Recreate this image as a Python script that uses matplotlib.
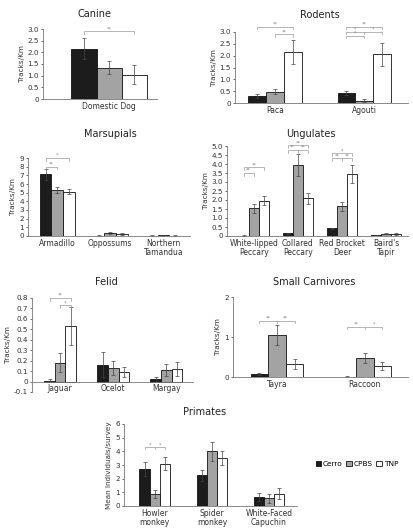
import matplotlib.pyplot as plt
import numpy as np

# colours of the three sites
site_names = ["Cerro", "CPBS", "TNP"]
site_colors = ["#1c1c1c", "#a3a3a3", "#ffffff"]

# data per panel: means and error (Cerro, CPBS, TNP)
canine_cats = ["Domestic Dog"]
canine_mean = [[2.15], [1.35], [1.05]]
canine_err = [[0.45], [0.27], [0.42]]

rodent_cats = ["Paca", "Agouti"]
rodent_mean = [[0.28, 0.42], [0.48, 0.10], [2.15, 2.05]]
rodent_err = [[0.08, 0.10], [0.10, 0.05], [0.50, 0.50]]

marsup_cats = ["Armadillo", "Oppossums", "Northern\nTamandua"]
marsup_mean = [[7.1, 0.05, 0.05], [5.3, 0.35, 0.08], [5.1, 0.2, 0.05]]
marsup_err = [[0.6, 0.02, 0.02], [0.35, 0.15, 0.03], [0.3, 0.1, 0.02]]

ungul_cats = ["White-lipped\nPeccary", "Collared\nPeccary", "Red Brocket\nDeer", "Baird's\nTapir"]
ungul_mean = [[0.02, 0.15, 0.42, 0.05], [1.55, 3.95, 1.65, 0.13], [1.97, 2.1, 3.45, 0.11]]
ungul_err = [[0.01, 0.03, 0.05, 0.02], [0.25, 0.6, 0.25, 0.03], [0.27, 0.3, 0.5, 0.03]]

felid_cats = ["Jaguar", "Ocelot", "Margay"]
felid_mean = [[0.01, 0.16, 0.02], [0.18, 0.13, 0.11], [0.53, 0.09, 0.12]]
felid_err = [[0.01, 0.12, 0.02], [0.09, 0.07, 0.06], [0.18, 0.05, 0.07]]

smallc_cats = ["Tayra", "Raccoon"]
smallc_mean = [[0.07, 0.01], [1.05, 0.48], [0.32, 0.28]]
smallc_err = [[0.03, 0.01], [0.25, 0.13], [0.12, 0.10]]

primate_cats = ["Howler\nmonkey", "Spider\nmonkey", "White-Faced\nCapuchin"]
primate_mean = [[2.7, 2.25, 0.65], [0.85, 4.0, 0.55], [3.1, 3.5, 0.9]]
primate_err = [[0.5, 0.4, 0.3], [0.3, 0.7, 0.3], [0.45, 0.5, 0.4]]

W, H = 413, 528
fig = plt.figure(figsize=(W / 100, H / 100), dpi=100)
plt.rcParams['font.family'] = ['DejaVu Sans']


def make_ax(left, right, top, bottom):
    return fig.add_axes([left / W, 1 - bottom / H, (right - left) / W, (bottom - top) / H])


def panel(ax, title, tpos, cats, means, errs, ylim, yticks, ylabels, xlim, bw,
          ylab="Tracks/Km", zero_axis=False):
    if zero_axis:
        ax.spines["bottom"].set_position(("data", 0))
    x = np.arange(len(cats))
    for k in range(3):
        ax.bar(x + (k - 1) * bw, means[k], bw, yerr=errs[k], color=site_colors[k],
               edgecolor="#111111", linewidth=0.6, label=site_names[k],
               error_kw=dict(ecolor="#444444", elinewidth=0.5, capsize=1.5, capthick=0.5))
    ax.set_xlim(xlim)
    ax.set_ylim(ylim)
    ax.set_yticks(yticks)
    ax.set_yticklabels(ylabels)
    ax.set_xticks(x)
    ax.set_xticklabels(cats, fontsize=5.5, linespacing=1.0)
    ax.tick_params(axis="y", labelsize=5.2, length=1.5, width=0.5, pad=1.5, colors="#333333")
    ax.tick_params(axis="x", length=0, pad=2, colors="#333333")
    for s in ["top", "right"]:
        ax.spines[s].set_visible(False)
    for s in ["left", "bottom"]:
        ax.spines[s].set_color("#777777")
        ax.spines[s].set_linewidth(0.6)
    ax.set_ylabel(ylab, fontsize=5.2, labelpad=2, color="#333333")
    fig.text(tpos[0] / W, 1 - tpos[1] / H, title, fontsize=7, ha="center", va="center",
             color="#222222")


def bracket(ax, g, i, j, y, h, labels, bw, mid=False):
    xi = g + (i - 1) * bw
    xj = g + (j - 1) * bw
    kw = dict(color="#999999", lw=0.5, clip_on=False)
    ax.plot([xi, xi, xj, xj], [y - h, y, y, y - h], **kw)
    if mid:
        xm = g
        ax.plot([xm, xm], [y, y - h], **kw)
        ax.text((xi + xm) / 2, y, labels[0], fontsize=3.5, ha="center", va="bottom", color="#888888")
        ax.text((xm + xj) / 2, y, labels[1], fontsize=3.5, ha="center", va="bottom", color="#888888")
    else:
        ax.text((xi + xj) / 2, y, labels[0], fontsize=3.5, ha="center", va="bottom", color="#888888")


t03 = [0, 0.5, 1, 1.5, 2, 2.5, 3]
l03 = ["0", "0.5", "1.0", "1.5", "2.0", "2.5", "3.0"]

# Canine
ax = make_ax(43, 157, 29, 99)
bw = 0.22
panel(ax, "Canine", (95, 14), canine_cats, canine_mean, canine_err, (0, 3), t03, l03,
      (-0.58, 0.42), bw)
bracket(ax, 0, 0, 2, 2.9, 0.1, ["**"], bw)

# Rodents
ax = make_ax(235, 408, 32, 103)
bw = 0.2
panel(ax, "Rodents", (320, 15), rodent_cats, rodent_mean, rodent_err, (0, 3), t03, l03,
      (-0.45, 1.49), bw)
bracket(ax, 0, 0, 2, 3.22, 0.1, ["**"], bw)
bracket(ax, 0, 1, 2, 2.9, 0.1, ["**"], bw)
bracket(ax, 1, 0, 2, 3.22, 0.1, ["**"], bw)
bracket(ax, 1, 0, 2, 3.02, 0.1, ["*", "*"], bw, mid=True)
bracket(ax, 1, 0, 1, 2.85, 0.1, ["*"], bw)

# Marsupials
ax = make_ax(28, 190, 158, 236)
bw = 0.22
panel(ax, "Marsupials", (110, 134), marsup_cats, marsup_mean, marsup_err, (0, 9),
      list(range(10)), [str(v) for v in range(10)], (-0.55, 2.5), bw)
bracket(ax, 0, 0, 2, 9.0, 0.3, ["*"], bw)
bracket(ax, 0, 0, 1, 8.0, 0.3, ["**"], bw)

# Ungulates
ax = make_ax(227, 408, 146, 236)
bw = 0.23
ut = [0, 0.5, 1, 1.5, 2, 2.5, 3, 3.5, 4, 4.5, 5]
ul = ["0", "0.5", "1.0", "1.5", "2.0", "2.5", "3.0", "3.5", "4.0", "4.5", "5.0"]
panel(ax, "Ungulates", (311, 134), ungul_cats, ungul_mean, ungul_err, (0, 5), ut, ul,
      (-0.61, 3.5), bw)
bracket(ax, 0, 0, 2, 3.83, 0.15, ["**"], bw)
bracket(ax, 0, 0, 1, 3.5, 0.15, ["**"], bw)
bracket(ax, 1, 0, 2, 5.05, 0.15, ["**"], bw)
bracket(ax, 1, 0, 2, 4.78, 0.15, ["**", "**"], bw, mid=True)
bracket(ax, 2, 0, 2, 4.6, 0.15, ["*"], bw)
bracket(ax, 2, 0, 2, 4.33, 0.15, ["**", "**"], bw, mid=True)

# Felid
ax = make_ax(32, 193, 298, 392)
bw = 0.2
ft = [-0.1, 0, 0.1, 0.2, 0.3, 0.4, 0.5, 0.6, 0.7, 0.8]
fl = ["-0.1", "0", "0.1", "0.2", "0.3", "0.4", "0.5", "0.6", "0.7", "0.8"]
panel(ax, "Felid", (106, 282), felid_cats, felid_mean, felid_err, (-0.1, 0.8), ft, fl,
      (-0.53, 2.5), bw, zero_axis=True)
bracket(ax, 0, 0, 2, 0.8, 0.025, ["**"], bw)
bracket(ax, 0, 1, 2, 0.73, 0.025, ["*"], bw)

# Small Carnivores
ax = make_ax(233, 408, 297, 377)
bw = 0.2
panel(ax, "Small Carnivores", (314, 282), smallc_cats, smallc_mean, smallc_err, (0, 2),
      [0, 1, 2], ["0", "1", "2"], (-0.5, 1.49), bw)
bracket(ax, 0, 0, 2, 1.4, 0.06, ["**", "**"], bw, mid=True)
bracket(ax, 1, 0, 2, 1.25, 0.06, ["**", "*"], bw, mid=True)

# Primates
ax = make_ax(124, 297, 424, 506)
bw = 0.18
panel(ax, "Primates", (205, 412), primate_cats, primate_mean, primate_err, (0, 6),
      list(range(7)), [str(v) for v in range(7)], (-0.54, 2.49), bw,
      ylab="Mean Individuals/survey")
bracket(ax, 0, 0, 2, 4.3, 0.15, ["*", "*"], bw, mid=True)

handles, labels = ax.get_legend_handles_labels()
fig.legend(handles, labels, loc="center", bbox_to_anchor=(357 / W, 1 - 464 / H), ncol=3,
           fontsize=5.3, frameon=False, handlelength=0.7, handleheight=0.7,
           handletextpad=0.3, columnspacing=0.5, borderpad=0)

fig.savefig("out.png", dpi=100)
